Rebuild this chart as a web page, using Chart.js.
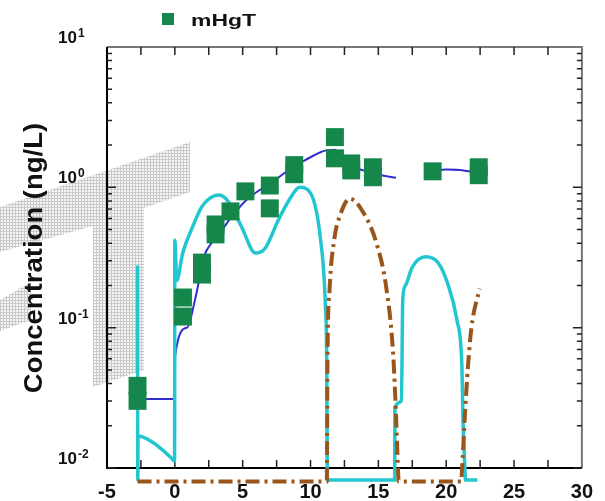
<!DOCTYPE html>
<html lang="en">
<head>
<meta charset="UTF-8">
<title>mHgT concentration</title>
<script src="https://cdn.jsdelivr.net/npm/chart.js@4/dist/chart.umd.min.js"></script>
<style>
  * { margin: 0; padding: 0; box-sizing: border-box; }
  html, body { width: 605px; height: 501px; background: #fff; overflow: hidden; }
  #wrap { position: relative; width: 605px; height: 501px; }
</style>
</head>
<body>
<div id="wrap"><canvas id="chart"></canvas></div>
<script>
const FONT = '"Liberation Sans", Arial, sans-serif';

// observed mHgT (repeated x = replicate samples)
const obsX = [-2.75, -2.75, 0.6, 0.6, 2, 2, 3, 3, 4.1, 5.2, 7, 7, 8.8, 8.8, 11.8, 11.8, 13, 13, 14.6, 14.6, 19, 22.4, 22.4];
const obsY = [0.0385, 0.0301, 0.164, 0.120, 0.291, 0.239, 0.544, 0.462, 0.674, 0.936, 1.03, 0.708, 1.44, 1.24, 2.28, 1.61, 1.48, 1.32, 1.39, 1.18, 1.30, 1.39, 1.22];

// modelled mHgT (blue), null = gap
const modelX = [-2.75, 0, 0.02, 0.9, 1.5, 2.2, 2.7, 3.5, 4.2, 5.2, 6.2, 7, 8, 9.3, 10.3, 11.2, 11.8, 12.5, 13.9, 15.2, 16.3, 17.6, 19, 20, 21, 22.4];
const modelY = [0.031, 0.031, 0.063, 0.10, 0.16, 0.33, 0.40, 0.50, 0.62, 0.80, 0.95, 1.05, 1.25, 1.50, 1.70, 1.84, 1.85, 1.50, 1.32, 1.22, 1.17, null, 1.30, 1.34, 1.33, 1.27];

// cyan solid curve (values under 0.01 sit below the axis, as in the original)
const cyanX = [-2.75, -2.73, -2.71, -1.67, -0.22, -0.02, 0, 0.14, 0.58, 1.3, 1.96, 2.54, 3.26, 3.99, 4.93, 5.94, 6.67, 7.61, 8.55, 9.2, 10.0, 10.72, 11.09, 11.2, 11.23, 11.26, 16.2, 16.22, 16.7, 16.8, 17.0, 17.5, 18.5, 19.4, 20.1, 20.8, 21.16, 21.23, 21.38, 21.42, 22.3];
const cyanY = [0.277, 0.0082, 0.0169, 0.0153, 0.0117, 0.0112, 0.42, 0.217, 0.34, 0.52, 0.72, 0.83, 0.88, 0.78, 0.52, 0.34, 0.37, 0.58, 0.85, 1.0, 0.91, 0.44, 0.148, 0.049, 0.0098, 0.0082, 0.0082, 0.027, 0.03, 0.16, 0.2, 0.27, 0.32, 0.29, 0.207, 0.112, 0.052, 0.024, 0.0098, 0.0082, 0.0082];

// brown dash-dot curve
const brownX = [-2.75, 11.2, 11.25, 11.4, 11.74, 12.2, 12.9, 13.9, 14.86, 15.58, 16.09, 16.3, 16.45, 16.5, 21.1, 21.16, 21.38, 21.6, 21.86, 22.46];
const brownY = [0.0080, 0.0080, 0.06, 0.184, 0.42, 0.64, 0.83, 0.66, 0.40, 0.194, 0.065, 0.024, 0.0096, 0.0080, 0.0080, 0.0095, 0.024, 0.052, 0.10, 0.19];

const xTickVals = [-5, 0, 5, 10, 15, 20, 25, 30];
const yDecades = [-2, -1, 0, 1];

const GREEN = '#15874a', CYAN = '#22c6d0', BLUE = '#2f2fcf', BROWN = '#9a561a';

const pts = (xs, ys) => xs.map((x, i) => ({ x, y: ys[i] }));

// grey stippled shapes behind the plot (scan artefact in the original)
const STIPPLE = [
  [[0, 207], [190, 142], [190, 192], [144, 208], [144, 370], [93, 387], [93, 226], [0, 252]],
  [[0, 300], [31, 282], [31, 320], [0, 331]],
];

function stipple(ctx) {
  const c = document.createElement('canvas');
  c.width = 3; c.height = 3;
  const p = c.getContext('2d');
  p.fillStyle = '#f5f5f5'; p.fillRect(0, 0, 3, 3);
  p.fillStyle = '#c9c9c9'; p.fillRect(0, 0, 3, 1); p.fillRect(0, 0, 1, 3);
  return ctx.createPattern(c, 'repeat');
}

const decor = {
  id: 'decor',
  beforeDraw(chart) {
    const ctx = chart.ctx;
    ctx.save();
    ctx.fillStyle = stipple(ctx);
    for (const poly of STIPPLE) {
      ctx.beginPath();
      poly.forEach(([x, y], i) => i ? ctx.lineTo(x, y) : ctx.moveTo(x, y));
      ctx.closePath();
      ctx.fill();
    }
    ctx.restore();
  },
  beforeDatasetsDraw(chart) {
    const { ctx, chartArea: a, scales: { x, y } } = chart;
    ctx.save();
    ctx.lineWidth = 2;
    ctx.strokeStyle = '#777';
    ctx.beginPath();
    ctx.moveTo(a.left, a.top); ctx.lineTo(a.right, a.top); ctx.lineTo(a.right, a.bottom);
    ctx.stroke();
    ctx.strokeStyle = '#000';
    ctx.beginPath();
    ctx.moveTo(a.left, a.top); ctx.lineTo(a.left, a.bottom); ctx.lineTo(a.right, a.bottom);
    ctx.stroke();

    // inward ticks
    ctx.lineWidth = 1.5;
    ctx.strokeStyle = '#222';
    ctx.beginPath();
    for (let v = -2.5; v < 30; v += 2.5) {
      const px = x.getPixelForValue(v);
      ctx.moveTo(px, a.bottom); ctx.lineTo(px, a.bottom - 8);
      ctx.moveTo(px, a.top); ctx.lineTo(px, a.top + 8);
    }
    for (const k of yDecades.slice(0, -1)) {
      for (let m = 1; m <= 9; m++) {
        const py = y.getPixelForValue(m * Math.pow(10, k));
        const len = m === 1 ? 9 : 5;
        ctx.moveTo(a.left, py); ctx.lineTo(a.left + len, py);
        ctx.moveTo(a.right, py); ctx.lineTo(a.right - len, py);
      }
    }
    ctx.stroke();
    ctx.restore();
  },
  afterDraw(chart) {
    const { ctx, scales: { y } } = chart;
    ctx.save();
    ctx.fillStyle = '#111';
    ctx.textAlign = 'left';
    ctx.textBaseline = 'alphabetic';
    // y tick labels 10^k
    for (const k of yDecades) {
      const py = y.getPixelForValue(Math.pow(10, k)) - 4;
      ctx.font = 'bold 17px ' + FONT;
      ctx.fillText('10', 58, py);
      const w = ctx.measureText('10').width;
      ctx.font = 'bold 12px ' + FONT;
      ctx.fillText(String(k), 58 + w + 1, py - 6);
    }
    // axis title
    ctx.save();
    ctx.translate(35, 258);
    ctx.rotate(-Math.PI / 2);
    ctx.scale(1.1, 1);
    ctx.textAlign = 'center';
    ctx.textBaseline = 'middle';
    ctx.font = 'bold 25px ' + FONT;
    ctx.fillText('Concentration (ng/L)', 0, 0);
    ctx.restore();
    // legend
    ctx.fillStyle = GREEN;
    ctx.fillRect(162, 13, 12, 12);
    ctx.save();
    ctx.translate(191, 26);
    ctx.scale(1.35, 1);
    ctx.fillStyle = '#111';
    ctx.font = 'bold 17px ' + FONT;
    ctx.fillText('mHgT', 0, 0);
    ctx.restore();
    ctx.restore();
  },
};

const curve = { pointRadius: 0, tension: 0.4, cubicInterpolationMode: 'monotone', clip: false };

new Chart(document.getElementById('chart'), {
  type: 'line',
  data: {
    datasets: [
      {
        label: 'mHgT', data: pts(obsX, obsY), showLine: false,
        pointStyle: 'rect', pointRadius: 12.7, pointBackgroundColor: GREEN, pointBorderWidth: 0,
        clip: false,
      },
      { label: 'brown', data: pts(brownX, brownY), borderColor: BROWN, borderWidth: 4, borderDash: [14, 5, 3, 5], ...curve },
      { label: 'cyan', data: pts(cyanX, cyanY), borderColor: CYAN, borderWidth: 3.5, ...curve },
      { label: 'model', data: pts(modelX, modelY), borderColor: BLUE, borderWidth: 2, ...curve },
    ],
  },
  options: {
    responsive: true,
    maintainAspectRatio: false,
    animation: false,
    events: [],
    layout: { padding: { left: 107, top: 47, right: 15, bottom: 0 } },
    elements: { line: { capBezierPoints: false } },
    plugins: { legend: { display: false }, tooltip: { enabled: false } },
    scales: {
      x: {
        type: 'linear', min: -5, max: 30,
        grid: { display: false, drawTicks: false },
        border: { display: false },
        afterBuildTicks: s => { s.ticks = xTickVals.map(v => ({ value: v })); },
        afterFit: s => { s.height = 33; },
        ticks: { color: '#111', padding: 12, font: { family: FONT, size: 20, weight: 'bold' }, maxRotation: 0, autoSkip: false },
      },
      y: {
        type: 'logarithmic', min: 0.01, max: 10,
        grid: { display: false, drawTicks: false },
        border: { display: false },
        ticks: { display: false },
        afterFit: s => { s.width = 0; },
      },
    },
  },
  plugins: [decor],
});
</script>
</body>
</html>
